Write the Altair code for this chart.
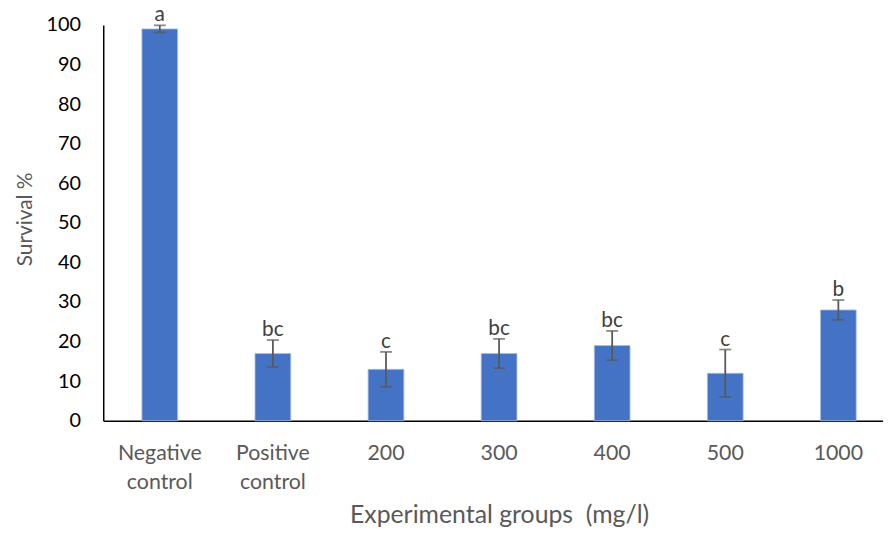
import altair as alt
import pandas as pd

groups = ["Negative control", "Positive control", "200", "300", "400", "500", "1000"]
means = [99.0, 17.0, 13.0, 17.0, 19.0, 12.0, 28.0]
errors = [0.9, 3.4, 4.4, 3.7, 3.7, 6.0, 2.5]
letters = ["a", "bc", "c", "bc", "bc", "c", "b"]
y_ticks = [0, 10, 20, 30, 40, 50, 60, 70, 80, 90, 100]

df = pd.DataFrame({"group": groups, "mean": means, "err": errors, "letter": letters})

FONT = "Lato"
GRAY = "#595959"

x_axis = alt.Axis(
    title="Experimental groups\u00a0\u00a0(mg/l)",
    labelAngle=0,
    labelExpr="split(datum.label, ' ')",
    labelLineHeight=29,
    labelPadding=22,
    labelBaseline="top",
    labelFontSize=21.5,
    labelColor=GRAY,
    labelFont=FONT,
    ticks=False,
    tickSize=0,
    domainColor="black",
    domainWidth=1.5,
    titleFont=FONT,
    titleFontSize=25,
    titleFontWeight="normal",
    titleColor=GRAY,
    titleX=399,
    titleY=103,
    titleAlign="center",
    titleBaseline="alphabetic",
)
x_enc = alt.X("group:N", sort=groups, axis=x_axis,
              scale=alt.Scale(range=[0, 798], paddingInner=0.684, paddingOuter=0.342))

y_axis = alt.Axis(
    title="Survival %",
    values=y_ticks,
    grid=False,
    ticks=False,
    tickSize=0,
    labelPadding=23,
    labelFontSize=20,
    labelColor="black",
    labelFont=FONT,
    domainColor="black",
    domainWidth=1.5,
    titleFont=FONT,
    titleFontSize=21,
    titleFontWeight="normal",
    titleColor=GRAY,
    titleAngle=-90,
    titleX=-72,
    titleY=195.5,
    titleAlign="center",
    titleBaseline="alphabetic",
)
y_scale = alt.Scale(domain=[0, 100], nice=False)

base = alt.Chart(df).transform_calculate(
    hi="datum.mean + datum.err", lo="datum.mean - datum.err"
)

bars = base.mark_bar(color="#4472C4", stroke="#A9BEE6", strokeWidth=0.8).encode(
    x=x_enc, y=alt.Y("mean:Q", scale=y_scale, axis=y_axis)
)
rules = base.mark_rule(color=GRAY, strokeWidth=1.8).encode(
    x=x_enc, y=alt.Y("lo:Q", scale=y_scale, axis=y_axis), y2="hi:Q"
)
caps_hi = base.mark_tick(color=GRAY, size=12, thickness=1.8).encode(
    x=x_enc, y=alt.Y("hi:Q", scale=y_scale, axis=y_axis)
)
caps_lo = base.mark_tick(color=GRAY, size=12, thickness=1.8).encode(
    x=x_enc, y=alt.Y("lo:Q", scale=y_scale, axis=y_axis)
)
labels = base.mark_text(font=FONT, fontSize=21, color="#404040",
                        baseline="alphabetic", dy=-4).encode(
    x=x_enc, y=alt.Y("hi:Q", scale=y_scale, axis=y_axis), text="letter:N"
)

chart = alt.layer(bars, rules, caps_hi, caps_lo, labels).properties(
    width=786,
    height=399,
    autosize=alt.AutoSizeParams(type="none"),
    padding={"left": 96, "top": 15, "right": 0, "bottom": 108},
).configure_view(stroke=None)

chart.save("out.html", embed_options={"renderer": "svg", "actions": False})
